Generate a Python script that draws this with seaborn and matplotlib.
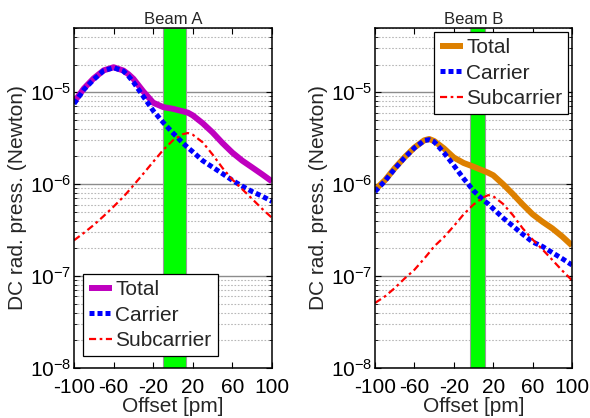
import numpy as np
import pandas as pd
import matplotlib
matplotlib.use("Agg")
import matplotlib.pyplot as plt
import matplotlib.ticker as mticker
import seaborn as sns

# ---------------- data ----------------
offset = [-100, -90, -80, -70, -60, -50, -45, -40, -30, -20, -10, 0, 10, 15, 20, 30, 40, 50, 60, 70, 80, 90, 100]

a_total = [7.8e-6, 1.1e-5, 1.42e-5, 1.73e-5, 1.87e-5, 1.72e-5, 1.57e-5, 1.4e-5, 1.02e-5, 7.7e-6, 6.9e-6, 6.6e-6, 6.2e-6,
           6.0e-6, 5.6e-6, 4.6e-6, 3.65e-6, 2.8e-6, 2.2e-6, 1.8e-6, 1.52e-6, 1.28e-6, 1.07e-6]
a_carrier = [7.5e-6, 1.07e-5, 1.38e-5, 1.72e-5, 1.85e-5, 1.7e-5, 1.5e-5, 1.29e-5, 9.0e-6, 6.3e-6, 4.7e-6, 3.6e-6, 2.8e-6,
             2.5e-6, 2.25e-6, 1.8e-6, 1.53e-6, 1.3e-6, 1.1e-6, 9.5e-7, 8.3e-7, 7.4e-7, 6.5e-7]
a_sub = [2.45e-7, 2.95e-7, 3.6e-7, 4.5e-7, 5.7e-7, 7.3e-7, 8.4e-7, 9.7e-7, 1.3e-6, 1.75e-6, 2.35e-6, 3.0e-6, 3.5e-6,
         3.6e-6, 3.45e-6, 2.85e-6, 2.1e-6, 1.5e-6, 1.12e-6, 8.8e-7, 6.9e-7, 5.4e-7, 4.3e-7]

b_total = [8.7e-7, 1.1e-6, 1.49e-6, 1.96e-6, 2.5e-6, 3.0e-6, 3.1e-6, 2.95e-6, 2.45e-6, 1.95e-6, 1.7e-6, 1.55e-6, 1.4e-6,
           1.33e-6, 1.25e-6, 1.0e-6, 7.8e-7, 6.0e-7, 4.7e-7, 3.9e-7, 3.3e-7, 2.7e-7, 2.15e-7]
b_carrier = [8.3e-7, 1.08e-6, 1.47e-6, 1.94e-6, 2.48e-6, 2.98e-6, 3.05e-6, 2.9e-6, 2.2e-6, 1.6e-6, 1.15e-6, 8.5e-7, 6.7e-7,
             6.1e-7, 5.4e-7, 4.3e-7, 3.5e-7, 2.85e-7, 2.35e-7, 2.1e-7, 1.8e-7, 1.55e-7, 1.32e-7]
b_sub = [5.1e-8, 6.0e-8, 7.4e-8, 9.4e-8, 1.17e-7, 1.55e-7, 1.8e-7, 2.1e-7, 2.65e-7, 3.5e-7, 4.7e-7, 6.0e-7, 7.2e-7,
         7.6e-7, 7.4e-7, 6.1e-7, 4.6e-7, 3.3e-7, 2.5e-7, 1.95e-7, 1.5e-7, 1.15e-7, 9.0e-8]

band_a = (-10, 13)
band_b = (-4, 12)
titles = ["Beam A", "Beam B"]
xticks = [-100, -60, -20, 20, 60, 100]
ylabel = "DC rad. press. (Newton)"
xlabel = "Offset [pm]"

# ---------------- style ----------------
sns.set_theme(style="white")
plt.rcParams["font.family"] = ["Liberation Sans", "DejaVu Sans"]
plt.rcParams["mathtext.fontset"] = "custom"
plt.rcParams["mathtext.rm"] = "Liberation Sans"
plt.rcParams["mathtext.it"] = "Liberation Sans:italic"
plt.rcParams["mathtext.default"] = "regular"
plt.rcParams["axes.unicode_minus"] = False

fig = plt.figure(figsize=(5.9, 4.18), dpi=100)
ax_a = fig.add_axes([74 / 590, 50 / 418, 198 / 590, 340 / 418])
ax_b = fig.add_axes([375 / 590, 50 / 418, 197 / 590, 340 / 418])

panels = [
    (ax_a, a_total, a_carrier, a_sub, band_a, "#bf00bf", "lower left", (0.045, 0.035)),
    (ax_b, b_total, b_carrier, b_sub, band_b, "#dd8000", "upper right", (0.982, 0.988)),
]

for i, (ax, tot, car, sub, band, tcol, loc, anchor) in enumerate(panels):
    df = pd.DataFrame({"offset": offset, "Total": tot, "Carrier": car, "Subcarrier": sub})
    ax.set_yscale("log")
    ax.set_xlim(-100, 100)
    ax.set_ylim(1e-8, 5e-5)

    ax.axvspan(band[0], band[1], facecolor="#00ff00", edgecolor="#9a9a9a", lw=0.8, zorder=1.5)

    sns.lineplot(data=df, x="offset", y="Total", ax=ax, color=tcol, lw=4.3,
                 solid_capstyle="butt", solid_joinstyle="round", label="Total", zorder=3)
    sns.lineplot(data=df, x="offset", y="Carrier", ax=ax, color="#0000ff", lw=3.6,
                 linestyle=(0, (1, 0.6)), dash_capstyle="butt", label="Carrier", zorder=4)
    sns.lineplot(data=df, x="offset", y="Subcarrier", ax=ax, color="#ff0000", lw=1.6,
                 linestyle=(0, (3.2, 1.6, 1.2, 1.6)), label="Subcarrier", zorder=5)

    ax.yaxis.set_major_locator(mticker.LogLocator(base=10, numticks=10))
    ax.yaxis.set_minor_locator(mticker.LogLocator(base=10, subs=np.arange(2, 10), numticks=20))
    ax.yaxis.set_minor_formatter(mticker.NullFormatter())
    ax.set_xticks(xticks)
    ax.set_xticklabels([str(t) for t in xticks])

    ax.grid(False)
    ax.yaxis.grid(True, which="major", color="#8c8c8c", lw=1.0, ls="-", zorder=0)
    ax.yaxis.grid(True, which="minor", color="#b8b8b8", lw=0.8, ls=(0, (1.5, 1.5)), zorder=0)
    ax.set_axisbelow(True)

    ax.tick_params(axis="both", which="both", direction="in", top=True, right=True,
                   bottom=True, left=True, colors="black")
    ax.tick_params(axis="both", which="major", length=4, width=0.8, labelsize=15)
    ax.tick_params(axis="x", which="major", pad=7)
    ax.tick_params(axis="y", which="major", pad=2)
    ax.tick_params(axis="y", which="minor", length=2, width=0.6)
    for s in ax.spines.values():
        s.set_color("black")
        s.set_linewidth(1.1)
        s.set_zorder(6)

    ax.set_title(titles[i], fontsize=12, pad=3)
    ax.set_xlabel(xlabel, fontsize=15, labelpad=0)
    ax.set_ylabel(ylabel, fontsize=15, labelpad=2)

    leg = ax.legend(loc=loc, bbox_to_anchor=anchor, fontsize=15, frameon=True, fancybox=False,
                    framealpha=1, edgecolor="black", handlelength=1.1, handletextpad=0.15,
                    borderpad=0.3, labelspacing=0.3, borderaxespad=0)
    leg.get_frame().set_linewidth(0.9)
    leg.set_zorder(10)

fig.savefig("out.png", dpi=100)
